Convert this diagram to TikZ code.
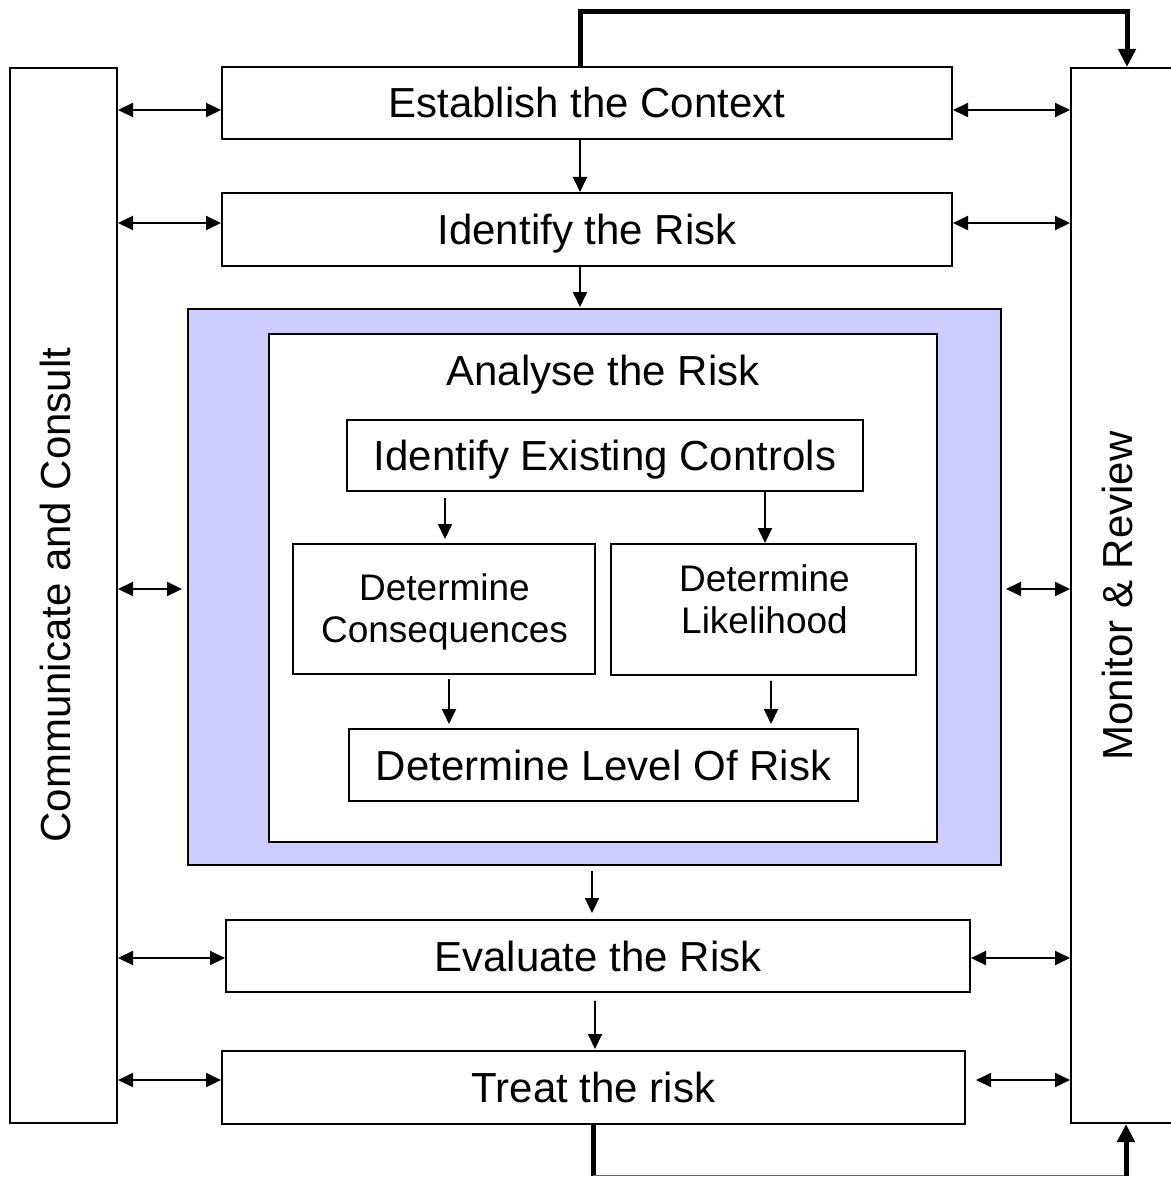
\documentclass[tikz,border=0pt]{standalone}
\usepackage{fontspec}
\setmainfont{Liberation Sans}
\usetikzlibrary{arrows.meta}
\definecolor{lav}{RGB}{204,204,255}
\newcommand\diagbig{\fontsize{42}{48}\selectfont}
\newcommand\diagmid{\fontsize{37}{42}\selectfont}
\begin{document}
\begin{tikzpicture}[x=1pt,y=-1pt,
  box/.style={draw, line width=2pt, fill=white, inner sep=0pt, font=\diagbig, text height=30pt, text depth=0pt},
  plain/.style={inner sep=0pt, font=\diagbig, text height=30pt, text depth=0pt},
  vtext/.style={inner sep=0pt, font=\diagbig, text height=30pt, text depth=0pt, rotate=90},
  two/.style={inner sep=0pt, font=\diagmid, align=center},
  arr/.style={line width=2pt, -{Triangle[length=15pt,width=14pt]}},
  dbl/.style={line width=2pt, {Triangle[length=15pt,width=14pt]}-{Triangle[length=15pt,width=14pt]}},
  fb/.style={line width=5pt, -{Triangle[length=18pt,width=17pt]}}]
\useasboundingbox (0,0) rectangle (1170,1177);
\fill[white] (0,0) rectangle (1170,1177);

% side boxes
\node[box, minimum width=107pt, minimum height=1055pt] (comm) at (63.5,595.5) {};
\node[vtext] (commt) at (55,595) {Communicate and Consult};
\node[box, minimum width=109pt, minimum height=1055pt] (mon) at (1125.5,595.5) {};
\node[vtext] (mont) at (1117,596) {Monitor \& Review};

% main boxes
\node[box, minimum width=730pt, minimum height=72pt] (est) at (587,103) {Establish the Context};
\node[box, minimum width=730pt, minimum height=73pt] (idr) at (587,229.5) {Identify the Risk};
\node[draw, line width=2pt, fill=lav, inner sep=0pt, minimum width=813pt, minimum height=556pt] (ana) at (594.5,587) {};
\node[box, minimum width=668pt, minimum height=508pt] (inner) at (603,588) {};
\node[plain] (anat) at (603,370) {Analyse the Risk};
\node[box, minimum width=516pt, minimum height=71pt] (ice) at (605,455.5) {Identify Existing Controls};
\node[box, minimum width=302pt, minimum height=130pt] (dc) at (444,609) {};
\node[two] (dct) at (444.5,611.7) {Determine\\Consequences};
\node[box, minimum width=305pt, minimum height=131pt] (dl) at (763.5,609.5) {};
\node[two] (dlt) at (764.5,598.8) {Determine\\Likelihood};
\node[box, minimum width=509pt, minimum height=72pt] (dlr) at (603.5,765) {Determine Level Of Risk};
\node[box, minimum width=744pt, minimum height=72pt] (eval) at (598,956) {Evaluate the Risk};
\node[box, minimum width=743pt, minimum height=73pt] (treat) at (593.5,1087.5) {Treat the risk};

% helper coordinates
\coordinate (y1) at (0,110);
\coordinate (y2) at (0,223);
\coordinate (y3) at (0,589);
\coordinate (y4) at (0,958);
\coordinate (y5) at (0,1080);
\coordinate (x1) at (580,0);
\coordinate (x2) at (445,0);
\coordinate (x3) at (765,0);
\coordinate (x4) at (449,0);
\coordinate (x5) at (771,0);
\coordinate (x6) at (592,0);
\coordinate (x7) at (595,0);

% double arrows
\draw[dbl] (comm.east |- y1) -- (est.west |- y1);
\draw[dbl] (est.east |- y1) -- (mon.west |- y1);
\draw[dbl] (comm.east |- y2) -- (idr.west |- y2);
\draw[dbl] (idr.east |- y2) -- (mon.west |- y2);
\draw[dbl, shorten >=5pt] (comm.east |- y3) -- (ana.west |- y3);
\draw[dbl, shorten <=4pt] (ana.east |- y3) -- (mon.west |- y3);
\draw[dbl] (comm.east |- y4) -- (eval.west |- y4);
\draw[dbl] (eval.east |- y4) -- (mon.west |- y4);
\draw[dbl] (comm.east |- y5) -- (treat.west |- y5);
\draw[dbl, shorten <=10pt] (treat.east |- y5) -- (mon.west |- y5);

% flow arrows
\draw[arr] (est.south -| x1) -- (idr.north -| x1);
\draw[arr, shorten >=1pt] (idr.south -| x1) -- (ana.north -| x1);
\draw[arr, shorten <=6pt, shorten >=4pt] (ice.south -| x2) -- (dc.north -| x2);
\draw[arr] (ice.south -| x3) -- (dl.north -| x3);
\draw[arr, shorten <=4pt, shorten >=4pt] (dc.south -| x4) -- (dlr.north -| x4);
\draw[arr, shorten <=5pt, shorten >=4pt] (dl.south -| x5) -- (dlr.north -| x5);
\draw[arr, shorten <=5pt, shorten >=6pt] (ana.south -| x6) -- (eval.north -| x6);
\draw[arr, shorten <=8pt, shorten >=1pt] (eval.south -| x7) -- (treat.north -| x7);

% feedback loops
\coordinate (tl) at (580,12);
\coordinate (tr) at (1127,12);
\draw[fb] (est.north -| tl) -- (tl) -- (tr) -- (mon.north -| tr);
\coordinate (bl) at (593,1175.5);
\coordinate (br) at (1126,1175.5);
\draw[line width=5pt] (treat.south -| bl) -- (bl);
\draw[line width=1.5pt, black!60] (bl) -- (br);
\draw[fb] (br) -- (mon.south -| br);
\end{tikzpicture}
\end{document}
